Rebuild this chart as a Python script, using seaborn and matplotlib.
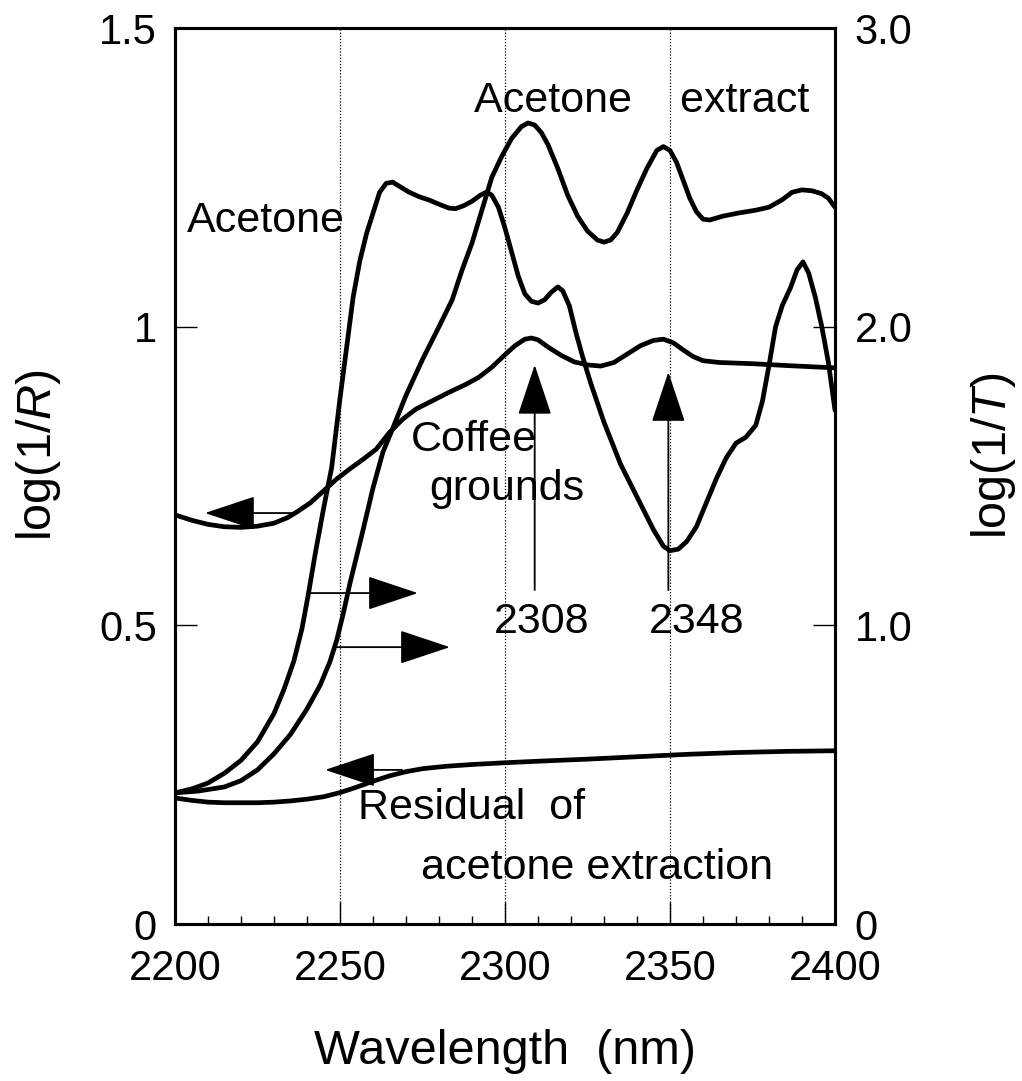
import numpy as np
import pandas as pd
import matplotlib
matplotlib.use("Agg")
import matplotlib.pyplot as plt
import seaborn as sns
from matplotlib.ticker import MultipleLocator, FixedLocator

# ---------------- data ----------------
acetone_wl = [2200, 2205, 2210, 2215, 2220, 2225, 2230, 2233, 2236, 2238.5, 2240.5, 2242.5,
              2245, 2247.5, 2250, 2252, 2254, 2256, 2258, 2260, 2262, 2264, 2266, 2268,
              2271, 2274, 2277, 2280, 2283, 2285, 2287.5, 2290, 2292.5, 2294.5, 2296, 2298,
              2300, 2302, 2304, 2306, 2308, 2310, 2312, 2314, 2316, 2317.5, 2319.5, 2321.5,
              2323.5, 2326, 2330, 2335, 2340, 2345, 2348, 2350, 2352.5, 2355, 2358, 2361,
              2364, 2367, 2370, 2373, 2376, 2378, 2380, 2382, 2384, 2386.5, 2388.5, 2390.3,
              2392, 2394, 2396, 2398, 2400]
acetone_T = [0.439, 0.452, 0.472, 0.505, 0.548, 0.610, 0.705, 0.785, 0.880, 0.99, 1.11, 1.24,
             1.39, 1.53, 1.76, 1.93, 2.10, 2.22, 2.31, 2.38, 2.45, 2.48, 2.484, 2.47,
             2.45, 2.435, 2.424, 2.41, 2.397, 2.395, 2.405, 2.42, 2.44, 2.451, 2.44, 2.40,
             2.33, 2.25, 2.17, 2.11, 2.085, 2.079, 2.09, 2.115, 2.133, 2.12, 2.07, 1.98,
             1.90, 1.81, 1.68, 1.54, 1.43, 1.32, 1.265, 1.25, 1.255, 1.28, 1.33, 1.41,
             1.49, 1.56, 1.61, 1.63, 1.67, 1.75, 1.87, 2.00, 2.07, 2.13, 2.19, 2.217,
             2.18, 2.10, 2.00, 1.88, 1.72]

extract_wl = [2200, 2207, 2215, 2220, 2225, 2230, 2235, 2240, 2244, 2247, 2249, 2251,
              2253, 2255, 2257, 2260, 2263, 2266, 2270, 2275, 2280, 2284, 2287, 2290,
              2293, 2296, 2299, 2302, 2305, 2307, 2309, 2311, 2313, 2316, 2319, 2322,
              2325, 2328, 2330, 2332, 2334, 2337, 2340, 2343, 2346, 2348, 2350, 2352,
              2354, 2356, 2358, 2360, 2362, 2366, 2371, 2376, 2380, 2384, 2387, 2390,
              2393, 2396, 2398, 2400]
extract_T = [0.439, 0.445, 0.459, 0.48, 0.516, 0.57, 0.635, 0.72, 0.80, 0.88, 0.95, 1.04,
             1.14, 1.23, 1.32, 1.46, 1.58, 1.66, 1.77, 1.89, 2.00, 2.09, 2.19, 2.28,
             2.39, 2.50, 2.57, 2.63, 2.67, 2.682, 2.675, 2.65, 2.61, 2.53, 2.44, 2.37,
             2.32, 2.29, 2.283, 2.29, 2.315, 2.38, 2.458, 2.53, 2.59, 2.603, 2.59, 2.55,
             2.49, 2.43, 2.385, 2.36, 2.357, 2.37, 2.381, 2.39, 2.40, 2.425, 2.45, 2.458,
             2.455, 2.445, 2.43, 2.40]

coffee_wl = [2200, 2205, 2210, 2215, 2220, 2225, 2230, 2234, 2237, 2241, 2245, 2249,
             2253, 2257, 2261, 2265, 2269, 2273, 2278, 2283, 2288, 2292, 2296, 2300,
             2303, 2306, 2308, 2310, 2313, 2317, 2321, 2325, 2329, 2333, 2337, 2341,
             2345, 2348, 2351, 2354, 2357, 2360, 2365, 2375, 2385, 2400]
coffee_R = [0.685, 0.676, 0.669, 0.665, 0.664, 0.666, 0.671, 0.680, 0.690, 0.705, 0.725, 0.745,
            0.762, 0.778, 0.795, 0.823, 0.845, 0.862, 0.876, 0.890, 0.903, 0.915, 0.932, 0.953,
            0.968, 0.979, 0.981, 0.978, 0.966, 0.952, 0.941, 0.936, 0.934, 0.940, 0.954, 0.968,
            0.977, 0.979, 0.973, 0.961, 0.950, 0.943, 0.940, 0.938, 0.935, 0.931]

residual_wl = [2200, 2205, 2210, 2215, 2220, 2225, 2230, 2235, 2240, 2245, 2250, 2255,
               2260, 2265, 2270, 2275, 2282, 2290, 2300, 2312, 2325, 2340, 2355, 2370,
               2385, 2400]
residual_R = [0.211, 0.207, 0.204, 0.203, 0.203, 0.203, 0.204, 0.206, 0.209, 0.213, 0.220, 0.229,
              0.239, 0.248, 0.255, 0.260, 0.264, 0.267, 0.270, 0.273, 0.276, 0.280, 0.284, 0.287,
              0.289, 0.290]

x_ticks = [2200, 2250, 2300, 2350, 2400]
left_ticks = [0, 0.5, 1, 1.5]
left_labels = ["0", "0.5", "1", "1.5"]
right_ticks = [0, 1, 2, 3]
right_labels = ["0", "1.0", "2.0", "3.0"]
grid_wl = [2250, 2300, 2350]
peaks_wl = [2309, 2349.5]
peak_labels = ["2308", "2348"]

# ---------------- style ----------------
sns.set_style("ticks")
plt.rcParams["font.family"] = ["Liberation Sans", "DejaVu Sans"]
plt.rcParams["mathtext.fontset"] = "custom"
plt.rcParams["mathtext.rm"] = "Liberation Sans"
plt.rcParams["mathtext.it"] = "Liberation Sans:italic"
for k in ("text.color", "axes.labelcolor", "xtick.color", "ytick.color", "axes.edgecolor"):
    plt.rcParams[k] = "black"

fig = plt.figure(figsize=(10.22, 10.81), dpi=100)
ax = fig.add_axes([175 / 1022, 157 / 1081, 660 / 1022, 896 / 1081])
ax2 = ax.twinx()

LW = 3.4
df_c = pd.DataFrame({"wl": coffee_wl, "v": coffee_R})
df_r = pd.DataFrame({"wl": residual_wl, "v": residual_R})
df_a = pd.DataFrame({"wl": acetone_wl, "v": acetone_T})
df_e = pd.DataFrame({"wl": extract_wl, "v": extract_T})

line_kw = dict(color="black", lw=LW, sort=False, solid_joinstyle="round", solid_capstyle="round")
sns.lineplot(data=df_c, x="wl", y="v", ax=ax, **line_kw)
sns.lineplot(data=df_r, x="wl", y="v", ax=ax, **line_kw)
sns.lineplot(data=df_a, x="wl", y="v", ax=ax2, **line_kw)
sns.lineplot(data=df_e, x="wl", y="v", ax=ax2, **line_kw)

for g in grid_wl:
    ax.axvline(g, color="black", lw=0.9, ls=(0, (1, 1.5)), zorder=0)

ax.set_xlim(2200, 2400)
ax.set_ylim(0, 1.5)
ax2.set_ylim(0, 3.0)

ax.xaxis.set_major_locator(FixedLocator(x_ticks))
ax.xaxis.set_minor_locator(MultipleLocator(10))
ax.set_xticklabels([str(t) for t in x_ticks])
ax.yaxis.set_major_locator(FixedLocator(left_ticks))
ax.set_yticklabels(left_labels)
ax2.yaxis.set_major_locator(FixedLocator(right_ticks))
ax2.set_yticklabels(right_labels)

TL = 30
ax.tick_params(axis="x", which="major", direction="in", length=16, width=1.0,
               labelsize=TL, pad=18, top=False)
ax.tick_params(axis="x", which="minor", direction="in", length=6, width=1.0, top=False)
ax.tick_params(axis="y", which="major", direction="in", length=16, width=1.0,
               labelsize=TL, pad=13, right=False)
ax2.tick_params(axis="y", which="major", direction="in", length=16, width=1.0,
                labelsize=TL, pad=14)

for a in (ax, ax2):
    for s in a.spines.values():
        s.set_linewidth(2.2)
        s.set_color("black")
        s.set_visible(True)

ax.set_xlabel("Wavelength  (nm)", fontsize=35, va="center")
ax.xaxis.set_label_coords(0.5, -0.142)
ax.set_ylabel(r"log(1/$\mathit{R}$)", fontsize=35, rotation=90, ha="center", va="center")
ax.yaxis.set_label_coords(-0.207, 0.523)
ax2.set_ylabel(r"log(1/$\mathit{T}$)", fontsize=35, rotation=90, ha="center", va="center")
ax2.yaxis.set_label_coords(1.24, 0.523)

# ---------------- annotations ----------------
arrow = dict(arrowstyle="-|>,head_length=0.9,head_width=0.3", color="black", lw=1.3,
             mutation_scale=36, shrinkA=0, shrinkB=0)
# coffee grounds -> left axis
ax.annotate("", xy=(2209.1, 0.688), xytext=(2236.4, 0.688), arrowprops=arrow)
# residual -> left axis
ax.annotate("", xy=(2245.5, 0.258), xytext=(2268.8, 0.258), arrowprops=arrow)
# acetone -> right axis
ax2.annotate("", xy=(2273.6, 1.108), xytext=(2240.9, 1.108), arrowprops=arrow)
# acetone extract -> right axis
ax2.annotate("", xy=(2283.3, 0.927), xytext=(2249.1, 0.927), arrowprops=arrow)
# peak arrows
ax.annotate("", xy=(peaks_wl[0], 0.936), xytext=(peaks_wl[0], 0.559), arrowprops=arrow)
ax.annotate("", xy=(peaks_wl[1], 0.924), xytext=(peaks_wl[1], 0.559), arrowprops=arrow)

fs = 31
ax.text(2203.6, 1.177, "Acetone", fontsize=fs, ha="left", va="center")
ax.text(2290.5, 1.378, "Acetone    extract", fontsize=fs, ha="left", va="center")
ax.text(2271.5, 0.810, "Coffee", fontsize=fs, ha="left", va="center")
ax.text(2277.0, 0.728, "grounds", fontsize=fs, ha="left", va="center")
ax.text(2311.0, 0.505, peak_labels[0], fontsize=fs, ha="center", va="center")
ax.text(2358.0, 0.505, peak_labels[1], fontsize=fs, ha="center", va="center")
ax.text(2255.5, 0.194, "Residual  of", fontsize=fs, ha="left", va="center")
ax.text(2274.5, 0.094, "acetone extraction", fontsize=fs, ha="left", va="center")

fig.savefig("out.png", dpi=100)
